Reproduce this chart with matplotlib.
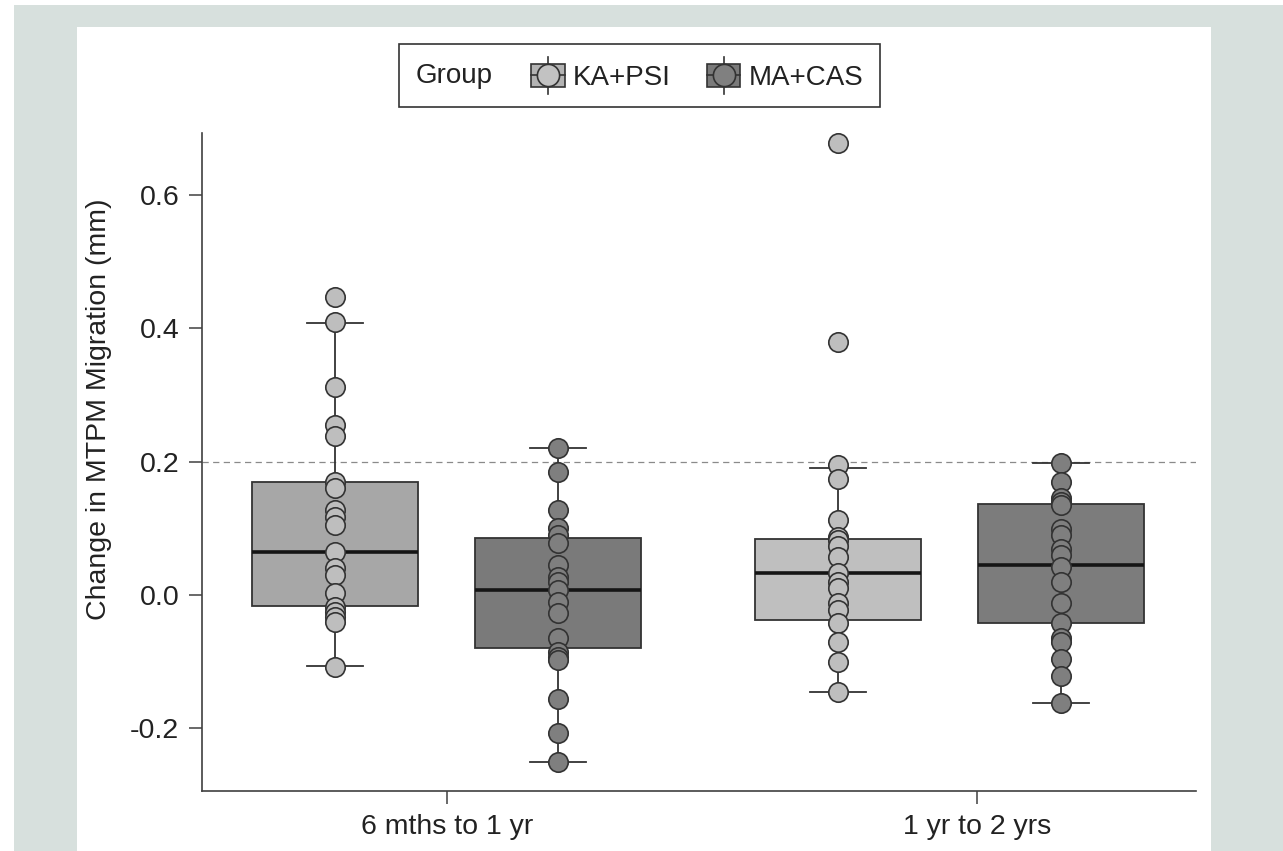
import matplotlib
matplotlib.use("Agg")
import matplotlib.pyplot as plt
from matplotlib.patches import Rectangle
from matplotlib.lines import Line2D
from matplotlib.legend_handler import HandlerBase
from matplotlib.offsetbox import HPacker

# ---------------- data ----------------
periods = ["6 mths to 1 yr", "1 yr to 2 yrs"]
groups = ["KA+PSI", "MA+CAS"]

ka_6m = [0.447, 0.409, 0.312, 0.255, 0.238, 0.170, 0.160, 0.127, 0.117, 0.105,
         0.065, 0.041, 0.030, 0.0025, -0.0175, -0.025, -0.0325, -0.040, -0.1075]
ma_6m = [0.220, 0.185, 0.128, 0.100, 0.090, 0.0775, 0.045, 0.0275, 0.020, 0.0075,
         -0.010, -0.0275, -0.065, -0.085, -0.0925, -0.0975, -0.156, -0.207, -0.250]
ka_1y = [0.678, 0.380, 0.195, 0.1735, 0.1125, 0.0875, 0.0825, 0.074, 0.0575, 0.033,
         0.020, 0.010, -0.0125, -0.0225, -0.0425, -0.070, -0.100, -0.145]
ma_1y = [0.1975, 0.170, 0.145, 0.140, 0.135, 0.0985, 0.090, 0.0685, 0.060, 0.0415,
         0.020, -0.0125, -0.0415, -0.065, -0.070, -0.0965, -0.1215, -0.1625]

# box statistics as drawn (order: KA 6m, MA 6m, KA 1y, MA 1y)
box_q1 = [-0.0165, -0.079, -0.0375, -0.0425]
box_med = [0.064, 0.0075, 0.0325, 0.045]
box_q3 = [0.169, 0.085, 0.0835, 0.136]
box_whislo = [-0.106, -0.250, -0.145, -0.1625]
box_whishi = [0.408, 0.220, 0.190, 0.1975]

threshold = 0.2
yticks = [-0.2, 0.0, 0.2, 0.4, 0.6]
ytick_labels = ["-0.2", "0.0", "0.2", "0.4", "0.6"]

# ---------------- styling ----------------
W, H = 1283, 851
FS = 20.5
LFS = 20.0
plt.rcParams['font.family'] = ['Liberation Sans', 'DejaVu Sans']
TXT = '#222222'
EDGE = '#333333'
box_fill = ['#a7a7a7', '#7a7a7a', '#bfbfbf', '#7c7c7c']
pt_fill = {'KA+PSI': '#bebebe', 'MA+CAS': '#7f7f7f'}

fig = plt.figure(figsize=(W / 100, H / 100), dpi=100)
fig.patch.set_facecolor('white')
# grey page background and white panel
fig.add_artist(Rectangle((14 / W, 0), 1 - 14 / W, 1 - 5 / H, transform=fig.transFigure,
                         facecolor='#d7e0dd', edgecolor='none', zorder=-10))
fig.add_artist(Rectangle((77 / W, 0), (1211 - 77) / W, 1 - 27 / H, transform=fig.transFigure,
                         facecolor='white', edgecolor='none', zorder=-9))

ax = fig.add_axes([202 / W, 1 - 791 / H, (1196 - 202) / W, (791 - 133) / H])
ax.set_facecolor('white')

# positions in data units (ticks at 0 and 1)
cat_x = [0, 1]
offsets = [(-0.211, 0.209), (-0.262, 0.158)]
positions = [cat_x[0] + offsets[0][0], cat_x[0] + offsets[0][1],
             cat_x[1] + offsets[1][0], cat_x[1] + offsets[1][1]]
series = [ka_6m, ma_6m, ka_1y, ma_1y]
series_group = ['KA+PSI', 'MA+CAS', 'KA+PSI', 'MA+CAS']

stats = []
for i in range(4):
    stats.append(dict(med=box_med[i], q1=box_q1[i], q3=box_q3[i],
                      whislo=box_whislo[i], whishi=box_whishi[i], fliers=[]))

bp = ax.bxp(stats, positions=positions, widths=0.313, patch_artist=True,
            showfliers=False, capwidths=0.106,
            boxprops=dict(edgecolor=EDGE, linewidth=1.3),
            medianprops=dict(color='#151515', linewidth=2.6),
            whiskerprops=dict(color=EDGE, linewidth=1.3),
            capprops=dict(color=EDGE, linewidth=1.3))
for patch, fc in zip(bp['boxes'], box_fill):
    patch.set_facecolor(fc)
    patch.set_zorder(2)
for k in ('medians', 'whiskers', 'caps'):
    for ln in bp[k]:
        ln.set_zorder(2.5)

for pos, vals, g in zip(positions, series, series_group):
    ax.scatter([pos] * len(vals), vals, s=195, facecolor=pt_fill[g],
               edgecolor=EDGE, linewidth=1.2, zorder=4)

ax.axhline(threshold, color='#8a8a8a', lw=0.9, ls=(0, (5, 3.5)), zorder=1)

ax.set_xlim(-0.462, 1.413)
ax.set_ylim(-0.294, 0.693)
ax.set_xticks(cat_x)
ax.set_xticklabels(periods)
ax.set_yticks(yticks)
ax.set_yticklabels(ytick_labels)
ax.tick_params(axis='both', direction='out', length=9.4, width=1.1, color='#404040',
               labelsize=FS, labelcolor=TXT, pad=7)
for s in ('top', 'right'):
    ax.spines[s].set_visible(False)
for s in ('left', 'bottom'):
    ax.spines[s].set_color('#404040')
    ax.spines[s].set_linewidth(1.2)

ax.set_ylabel("Change in MTPM Migration (mm)", fontsize=FS, color=TXT, va='center')
ax.yaxis.set_label_coords(-0.1036, 0.5805)


# ---------------- legend ----------------
class BoxHandler(HandlerBase):
    def __init__(self, face, dot):
        super().__init__()
        self.face = face
        self.dot = dot

    def create_artists(self, legend, orig_handle, xdescent, ydescent, width, height,
                       fontsize, trans):
        x0, y0 = -xdescent, -ydescent
        cx, cy = x0 + width / 2, y0 + height / 2
        rh = 0.83 * fontsize
        rect = Rectangle((x0, cy - rh / 2), width, rh, facecolor=self.face, edgecolor=EDGE,
                         linewidth=1.2, transform=trans)
        hl = Line2D([x0, x0 + width], [cy, cy], color=EDGE, lw=1.2, transform=trans)
        vh = 0.67 * fontsize
        vl = Line2D([cx, cx], [cy - vh, cy + vh], color=EDGE, lw=1.2, transform=trans)
        dot = Line2D([cx], [cy], marker='o', ms=0.8 * fontsize, mfc=self.dot, mec=EDGE,
                     mew=1.2, ls='none', transform=trans)
        return [rect, hl, vl, dot]


h1 = Rectangle((0, 0), 1, 1)
h2 = Rectangle((0, 0), 1, 1)
leg = ax.legend([h1, h2], groups, title="Group", ncol=2, loc='center',
                bbox_to_anchor=(639.5 / W, 1 - 75.5 / H), bbox_transform=fig.transFigure,
                fontsize=LFS, title_fontsize=LFS, frameon=True, fancybox=False,
                edgecolor=EDGE, framealpha=1, handlelength=1.2, handleheight=1.3,
                handletextpad=0.3, columnspacing=1.3, borderpad=0.6,
                handler_map={h1: BoxHandler('#b3b3b3', '#c2c2c2'),
                             h2: BoxHandler('#7a7a7a', '#808080')})
leg.get_frame().set_linewidth(1.2)
for t in leg.get_texts():
    t.set_color(TXT)
leg.get_title().set_color(TXT)
try:
    fs_px = leg._fontsize
    newbox = HPacker(pad=leg.borderpad * fs_px, sep=1.4 * fs_px, align='center',
                     children=[leg._legend_title_box, leg._legend_handle_box])
    newbox.set_figure(fig)
    newbox.set_offset(leg._findoffset)
    leg._legend_box = newbox
except Exception:
    pass

fig.savefig("out.png", dpi=100, facecolor=fig.get_facecolor())
